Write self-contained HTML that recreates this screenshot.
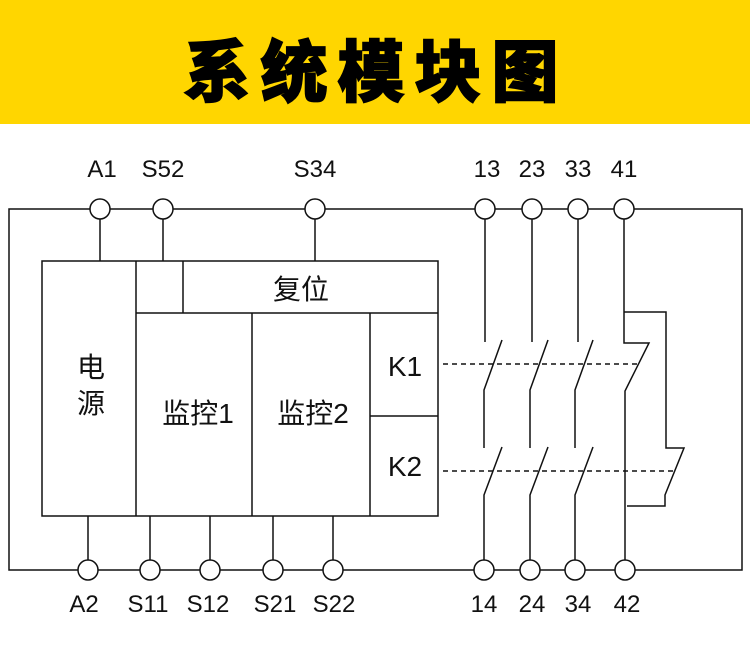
<!DOCTYPE html>
<html><head><meta charset="utf-8"><style>
html,body{margin:0;padding:0;background:#fff;}
svg{display:block}
text{font-family:"Liberation Sans","Noto Sans CJK SC",sans-serif;fill:#111}
</style></head><body>
<svg width="750" height="651" viewBox="0 0 750 651" xmlns="http://www.w3.org/2000/svg">
<rect x="0" y="0" width="750" height="124" fill="#FFD600"/>
<text x="376" y="96" text-anchor="middle" font-size="67" font-weight="900" letter-spacing="10" style="font-family:'Noto Sans CJK SC',sans-serif;fill:#000;stroke:#000;stroke-width:1.5">系统模块图</text>
<g stroke="#111" stroke-width="1.5" fill="none">
<rect x="9" y="209" width="733" height="361"/>
<rect x="42" y="261" width="396" height="255" fill="#fff"/>
<line x1="136" y1="261" x2="136" y2="516"/>
<line x1="136" y1="313" x2="438" y2="313"/>
<line x1="183" y1="261" x2="183" y2="313"/>
<line x1="252" y1="313" x2="252" y2="516"/>
<line x1="370" y1="313" x2="370" y2="516"/>
<line x1="370" y1="416" x2="438" y2="416"/>
<line x1="100" y1="209" x2="100" y2="261"/>
<line x1="163" y1="209" x2="163" y2="261"/>
<line x1="315" y1="209" x2="315" y2="261"/>
<line x1="88" y1="516" x2="88" y2="570"/>
<line x1="150" y1="516" x2="150" y2="570"/>
<line x1="210" y1="516" x2="210" y2="570"/>
<line x1="273" y1="516" x2="273" y2="570"/>
<line x1="333" y1="516" x2="333" y2="570"/>
<polyline points="485,219 485,342"/><polyline points="502,340 484,390 484,448"/><polyline points="502,447 484,495 484,560"/>
<polyline points="532,219 532,342"/><polyline points="548,340 530,390 530,448"/><polyline points="548,447 530,495 530,560"/>
<polyline points="578,219 578,342"/><polyline points="593,340 575,390 575,448"/><polyline points="593,447 575,495 575,560"/>
<polyline points="624,219 624,343 649,343 625,391 625,560"/>
<polyline points="624,312 666,312 666,448 684,448 665,495 665,506 627,506"/>
<line x1="443" y1="364" x2="640" y2="364" stroke-dasharray="5,4"/>
<line x1="443" y1="471" x2="676" y2="471" stroke-dasharray="5,4"/>
</g>
<g stroke="#111" stroke-width="1.5" fill="#fff">
<circle cx="100" cy="209" r="10"/><circle cx="163" cy="209" r="10"/><circle cx="315" cy="209" r="10"/>
<circle cx="485" cy="209" r="10"/><circle cx="532" cy="209" r="10"/><circle cx="578" cy="209" r="10"/><circle cx="624" cy="209" r="10"/>
<circle cx="88" cy="570" r="10"/><circle cx="150" cy="570" r="10"/><circle cx="210" cy="570" r="10"/><circle cx="273" cy="570" r="10"/><circle cx="333" cy="570" r="10"/>
<circle cx="484" cy="570" r="10"/><circle cx="530" cy="570" r="10"/><circle cx="575" cy="570" r="10"/><circle cx="625" cy="570" r="10"/>
</g>
<g font-size="24" text-anchor="middle">
<text x="102" y="177">A1</text><text x="163" y="177">S52</text><text x="315" y="177">S34</text>
<text x="487" y="177">13</text><text x="532" y="177">23</text><text x="578" y="177">33</text><text x="624" y="177">41</text>
<text x="84" y="612">A2</text><text x="148" y="612">S11</text><text x="208" y="612">S12</text><text x="275" y="612">S21</text><text x="334" y="612">S22</text>
<text x="484" y="612">14</text><text x="532" y="612">24</text><text x="578" y="612">34</text><text x="627" y="612">42</text>
</g>
<g font-size="28" text-anchor="middle">
<text x="301" y="299">复位</text>
<text x="91" y="377">电</text><text x="91" y="413">源</text>
<text x="198" y="423">监控1</text><text x="313" y="423">监控2</text>
<text x="405" y="376">K1</text><text x="405" y="476">K2</text>
</g>
</svg>
</body></html>
